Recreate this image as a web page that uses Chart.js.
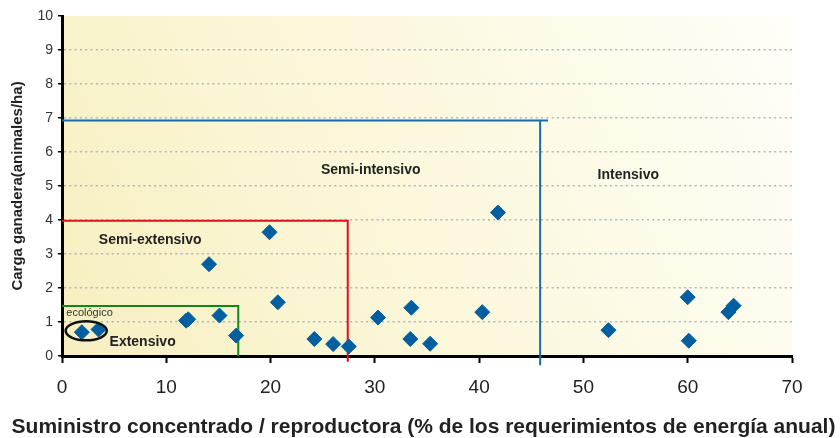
<!DOCTYPE html>
<html>
<head>
<meta charset="utf-8">
<script src="https://cdn.jsdelivr.net/npm/chart.js@4/dist/chart.umd.min.js"></script>
<style>
  html,body{margin:0;padding:0;background:#fff;}
</style>
</head>
<body>
<canvas id="chart" width="840" height="438"></canvas>
<script>
// puntos: suministro concentrado (% req. energía anual) y carga ganadera (animales/ha)
const suministro = [1.9, 3.5, 11.9, 12.1, 14.1, 15.1, 16.7, 19.9, 20.7, 24.2, 26.0, 27.5, 30.3, 33.5, 33.4, 35.3, 40.3, 41.8, 52.4, 60.0, 60.1, 63.9, 64.4];
const carga      = [0.70, 0.78, 1.04, 1.08, 2.70, 1.19, 0.60, 3.64, 1.58, 0.50, 0.35, 0.28, 1.13, 1.42, 0.50, 0.36, 1.29, 4.22, 0.76, 1.73, 0.45, 1.29, 1.48];

// límites de los sistemas
const extensivoX = [0, 16.9, 16.9];
const extensivoY = [1.47, 1.47, 0];
const semiExtX = [0, 27.4, 27.4];
const semiExtY = [3.98, 3.98, -0.17];
const semiIntX = [0, 46.6];
const semiIntY = [6.93, 6.93];
const intensivoX = [45.85, 45.85];
const intensivoY = [6.93, -0.27];

// rótulos de zonas
const zonaNombres = ['Semi-intensivo', 'Intensivo', 'Semi-extensivo', 'Extensivo'];
const zonaX = [29.6, 54.3, 8.46, 7.73];
const zonaY = [5.46, 5.31, 3.41, 0.40];

// grupo ecológico
const ecoTexto = 'ecológico';
const ecoX = 2.64, ecoY = 1.26;
const elipseX = 2.32, elipseY = 0.74, elipseRx = 1.97, elipseRy = 0.28;

const xTicks = [0, 10, 20, 30, 40, 50, 60, 70];
const yTicks = [0, 1, 2, 3, 4, 5, 6, 7, 8, 9, 10];
const xTitulo = 'Suministro concentrado / reproductora (% de los requerimientos de energía anual)';
const yTitulo = 'Carga ganadera(animales/ha)';

const toPts = (xs, ys) => xs.map((v, i) => ({x: v, y: ys[i]}));

const lineDs = (xs, ys, color) => ({
  type: 'scatter', data: toPts(xs, ys), showLine: true, borderColor: color, borderWidth: 2,
  pointRadius: 0, fill: false, clip: false, order: 2
});

const FONT = '"Liberation Sans", Arial, sans-serif';

const zonas = {
  id: 'zonas',
  beforeDraw(chart){
    const {ctx, chartArea: a} = chart;
    const g = ctx.createLinearGradient(a.left, a.bottom, a.right, a.top);
    g.addColorStop(0, '#f7efc0');
    g.addColorStop(0.3, '#faf5d2');
    g.addColorStop(1, '#fffef8');
    ctx.save();
    ctx.fillStyle = g;
    ctx.fillRect(a.left, a.top, a.right - a.left, a.bottom - a.top);
    ctx.restore();
  },
  afterDatasetsDraw(chart){
    const {ctx, scales: {x, y}} = chart;
    ctx.save();
    const cx = x.getPixelForValue(elipseX), cy = y.getPixelForValue(elipseY);
    const rx = x.getPixelForValue(elipseX + elipseRx) - cx;
    const ry = cy - y.getPixelForValue(elipseY + elipseRy);
    ctx.beginPath();
    ctx.ellipse(cx, cy, rx, ry, 0, 0, Math.PI * 2);
    ctx.lineWidth = 2.5;
    ctx.strokeStyle = '#111';
    ctx.stroke();

    ctx.textAlign = 'center';
    ctx.textBaseline = 'middle';
    ctx.fillStyle = '#222';
    ctx.font = 'bold 14px ' + FONT;
    zonaNombres.forEach((t, i) => ctx.fillText(t, x.getPixelForValue(zonaX[i]), y.getPixelForValue(zonaY[i])));
    ctx.font = '11px ' + FONT;
    ctx.fillStyle = '#333';
    ctx.fillText(ecoTexto, x.getPixelForValue(ecoX), y.getPixelForValue(ecoY));

    // título del eje x (sin recorte al ancho del eje)
    ctx.font = 'bold 21px ' + FONT;
    ctx.fillStyle = '#222';
    ctx.fillText(xTitulo, chart.width / 2 + 3.5, x.bottom - 10.5);
    ctx.restore();
  }
};

new Chart(document.getElementById('chart'), {
  type: 'scatter',
  data: {
    datasets: [
      { data: toPts(suministro, carga), pointStyle: 'rectRot', pointRadius: 7.5, borderWidth: 1,
        backgroundColor: '#005fa0', borderColor: '#005fa0', order: 0 },
      lineDs(extensivoX, extensivoY, '#13861a'),
      lineDs(semiExtX, semiExtY, '#e3101a'),
      lineDs(semiIntX, semiIntY, '#1a6aa6'),
      lineDs(intensivoX, intensivoY, '#1a6aa6')
    ]
  },
  options: {
    responsive: false,
    animation: false,
    layout: {padding: {left: 0, right: 48, top: 16, bottom: 0}},
    plugins: {legend: {display: false}, tooltip: {enabled: false}},
    scales: {
      x: {
        type: 'linear', min: 0, max: 70,
        afterBuildTicks: s => { s.ticks = xTicks.map(v => ({value: v})); },
        afterFit: s => { s.height = 82; },
        border: {display: true, color: '#000', width: 3},
        grid: {drawOnChartArea: false, drawTicks: true, tickLength: 7, tickWidth: 2, tickColor: '#000'},
        ticks: {color: '#222', padding: 13, font: {family: FONT, size: 19}}
      },
      y: {
        type: 'linear', min: 0, max: 10,
        afterBuildTicks: s => { s.ticks = yTicks.map(v => ({value: v})); },
        afterFit: s => { s.width = 62; },
        border: {display: true, color: '#000', width: 3, dash: [2, 3.3]},
        grid: {
          color: c => (c.tick && (c.tick.value === 0 || c.tick.value === 10)) ? 'rgba(0,0,0,0)' : '#b3b3b3',
          lineWidth: 1.5, drawTicks: true, tickLength: 4, tickWidth: 1.5, tickColor: '#000', tickBorderDash: []
        },
        ticks: {color: '#333', padding: 5, font: {family: FONT, size: 14}},
        title: {display: true, text: yTitulo, color: '#222',
          font: {family: FONT, size: 15, weight: 'bold'}, padding: {top: 9, bottom: 0}}
      }
    }
  },
  plugins: [zonas]
});
</script>
</body>
</html>
